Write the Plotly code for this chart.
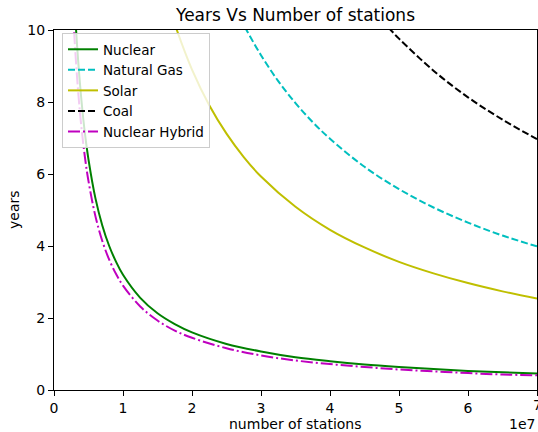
import plotly.graph_objects as go

# x values in stations, y values in years
nuclear_x = [0.28e7, 0.32e7, 0.35e7, 0.4e7, 0.45e7, 0.5e7, 0.6e7, 0.7e7, 0.8e7, 0.9e7, 1.0e7, 1.25e7, 1.5e7,
             1.75e7, 2.0e7, 2.5e7, 3.0e7, 3.5e7, 4.0e7, 4.5e7, 5.0e7, 5.5e7, 6.0e7, 6.5e7, 7.0e7]
nuclear_y = [11.4, 10.0, 9.15, 8.0, 7.1, 6.4, 5.33, 4.57, 4.0, 3.56, 3.2, 2.56, 2.13,
             1.83, 1.6, 1.28, 1.07, 0.91, 0.80, 0.71, 0.64, 0.58, 0.53, 0.49, 0.46]

hybrid_x = [0.25e7, 0.29e7, 0.35e7, 0.4e7, 0.45e7, 0.5e7, 0.6e7, 0.7e7, 0.8e7, 0.9e7, 1.0e7, 1.25e7, 1.5e7,
            1.75e7, 2.0e7, 2.5e7, 3.0e7, 3.5e7, 4.0e7, 4.5e7, 5.0e7, 5.5e7, 6.0e7, 6.5e7, 7.0e7]
hybrid_y = [11.6, 10.0, 8.29, 7.25, 6.44, 5.8, 4.83, 4.14, 3.62, 3.22, 2.9, 2.32, 1.93,
            1.65, 1.45, 1.16, 0.96, 0.82, 0.72, 0.64, 0.57, 0.52, 0.47, 0.43, 0.41]

solar_x = [1.7e7, 1.78e7, 2.0e7, 2.25e7, 2.5e7, 2.75e7, 3.0e7, 3.5e7, 4.0e7, 4.5e7, 5.0e7, 5.5e7, 6.0e7, 6.5e7, 7.0e7]
solar_y = [10.47, 10.0, 8.9, 7.91, 7.12, 6.47, 5.93, 5.09, 4.45, 3.96, 3.56, 3.24, 2.97, 2.74, 2.54]

gas_x = [2.7e7, 2.79e7, 3.0e7, 3.25e7, 3.5e7, 3.75e7, 4.0e7, 4.5e7, 5.0e7, 5.5e7, 6.0e7, 6.5e7, 7.0e7]
gas_y = [10.33, 10.0, 9.3, 8.58, 7.97, 7.44, 6.98, 6.2, 5.58, 5.07, 4.65, 4.29, 3.99]

coal_x = [4.75e7, 4.88e7, 5.0e7, 5.5e7, 6.0e7, 6.5e7, 7.0e7]
coal_y = [10.27, 10.0, 9.76, 8.87, 8.13, 7.51, 6.97]

x_tickvals = [0, 1e7, 2e7, 3e7, 4e7, 5e7, 6e7, 7e7]
x_ticktext = ["0", "1", "2", "3", "4", "5", "6", "7"]
y_tickvals = [0, 2, 4, 6, 8, 10]

FONT = "DejaVu Sans"
FS = 14

fig = go.Figure()
series = [
    ("Nuclear", nuclear_x, nuclear_y, "#008000", "solid"),
    ("Natural Gas", gas_x, gas_y, "#00bfbf", "7px,3px"),
    ("Solar", solar_x, solar_y, "#bfbf00", "solid"),
    ("Coal", coal_x, coal_y, "#000000", "7px,3px"),
    ("Nuclear Hybrid", hybrid_x, hybrid_y, "#bf00bf", "12px,3px,2px,3px"),
]
for name, xs, ys, col, dash in series:
    fig.add_trace(go.Scatter(x=xs, y=ys, mode="lines", name=name,
                             line=dict(color=col, width=2, dash=dash, shape="spline")))

axis_common = dict(showline=True, linecolor="black", linewidth=1, mirror=True,
                   ticks="outside", ticklen=5, tickwidth=1, tickcolor="black",
                   showgrid=False, zeroline=False, automargin=False,
                   tickfont=dict(family=FONT, size=FS, color="black"))

label_y = (390 - 424) / 360

fig.update_layout(
    width=538, height=432,
    margin=dict(l=54, r=1, t=30, b=42),
    paper_bgcolor="white", plot_bgcolor="white",
    font=dict(family=FONT, size=FS, color="black"),
    title=dict(text="Years Vs Number of stations", x=295.5 / 538, xanchor="center",
               yref="container", y=1 - 15 / 432, yanchor="middle",
               font=dict(family=FONT, size=17, color="black")),
    xaxis=dict(range=[0, 7e7], tickvals=x_tickvals, ticktext=x_ticktext, **axis_common),
    yaxis=dict(range=[0, 10], tickvals=y_tickvals, **axis_common),
    legend=dict(x=(62 - 54) / 483, y=(390 - 33) / 360, xanchor="left", yanchor="top",
                bgcolor="rgba(255,255,255,0.8)", bordercolor="#cccccc", borderwidth=1,
                font=dict(family=FONT, size=13.5, color="black"), itemwidth=30,
                tracegroupgap=0),
    showlegend=True,
    annotations=[
        dict(text="number of stations", xref="paper", yref="paper", x=0.5, y=label_y,
             xanchor="center", yanchor="middle", showarrow=False,
             font=dict(family=FONT, size=FS, color="black")),
        dict(text="years", xref="paper", yref="paper", x=(14 - 54) / 483, y=0.5,
             xanchor="center", yanchor="middle", textangle=-90, showarrow=False,
             font=dict(family=FONT, size=FS, color="black")),
        dict(text="1e7", xref="paper", yref="paper", x=1.0, y=label_y,
             xanchor="right", yanchor="middle", showarrow=False,
             font=dict(family=FONT, size=FS, color="black")),
        # edge tick label that plotly hides (partly cut off in the reference as well)
        dict(text=x_ticktext[-1], xref="x", yref="paper", x=x_tickvals[-1], y=(390 - 405) / 360,
             xanchor="center", yanchor="middle", showarrow=False,
             font=dict(family=FONT, size=FS, color="black")),
    ],
)

fig.write_html(
    "out.html",
    config={"displayModeBar": False},
    post_script="document.body.style.margin='0';document.body.style.overflow='hidden';",
)
